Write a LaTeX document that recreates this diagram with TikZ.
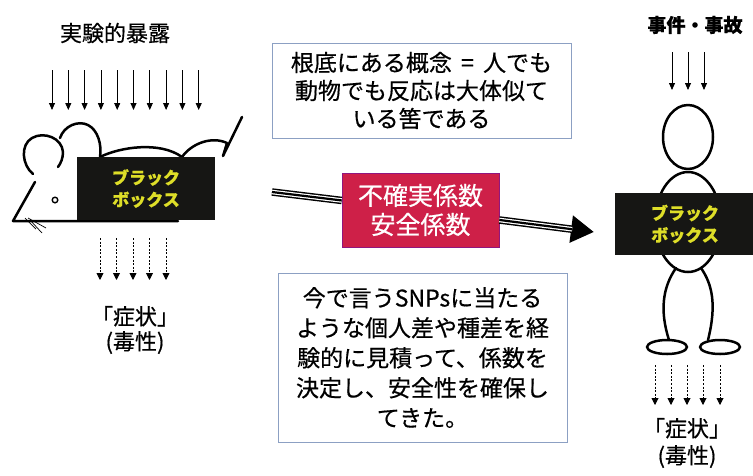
\documentclass[tikz,border=0pt]{standalone}
\usepackage{fontspec}
\setmainfont[FakeBold=0.5]{Noto Sans CJK JP}
\usetikzlibrary{arrows.meta}
\definecolor{boxblack}{RGB}{22,22,20}
\definecolor{boxyellow}{RGB}{222,222,40}
\definecolor{factorred}{RGB}{206,32,72}
\definecolor{frameblue}{RGB}{140,160,195}
\begin{document}
\begin{tikzpicture}[x=1pt,y=-1pt,
  outline/.style={line width=2.5pt, line cap=round, line join=round},
  inarrow/.style={line width=0.8pt, -{Triangle[length=7pt,width=6pt]}},
  outarrow/.style={line width=0.9pt, dash pattern=on 2pt off 1.6pt, -{Triangle[length=7pt,width=7pt]}},
  blackbox/.style={fill=boxblack, text=boxyellow, font=\bfseries\fontsize{17}{22}\selectfont, align=center, inner sep=0pt},
  note/.style={draw=frameblue, line width=0.9pt, fill=white, align=center, inner sep=0pt},
  caption/.style={align=center, inner sep=0pt},
  factorbox/.style={fill=factorred, draw=factorred!70!blue, line width=0.6pt, text=white, align=center, inner sep=0pt, font=\fontsize{25}{29}\selectfont},
]
\useasboundingbox[fill=white] (0,0) rectangle (753,475);

% ---------- left: exposure experiment on a mouse ----------
\node[caption, font=\fontsize{22}{25}\selectfont] (expo) at (115,33) {実験的暴露};
\foreach \x in {52,68.3,84.6,100.9,117.2,133.5,149.8,166.1,182.4,198.7}
  \draw[inarrow] (\x,70) -- (\x,110);

% mouse outline
\draw[outline] (33,174) .. controls (22,165) and (20,145) .. (32,138)
  .. controls (44,131) and (62,138) .. (63,152)
  .. controls (63,158) and (61,163) .. (58,167);
\draw[outline] (60,138) .. controls (64,126) and (78,120) .. (88,125)
  .. controls (98,130) and (102,145) .. (100,157);
\draw[outline] (100,157) .. controls (120,147) and (160,141) .. (182,157);
\draw[outline] (182,157) .. controls (192,143) and (212,136) .. (227,143)
  -- (223,156) -- (242,117);
\draw[outline] (35,182) -- (13,221) -- (178,221);
\draw[line width=1.4pt] (55,200) circle[radius=2.8pt];
\draw[line width=0.7pt] (25,218) -- (36,229) (28,218) -- (46,228) (30,220) -- (42,233);

\node[blackbox, minimum width=138pt, minimum height=63pt] (boxL) at (146,188.5) {ブラック\\ボックス};

\foreach \x in {100,116.5,133,149.5,166}
  \draw[outarrow] (\x,238) -- (\x,280);
\node[caption, font=\fontsize{22}{25}\selectfont] (sympL) at (135,330) {「症状」\\(毒性)};

% ---------- middle: notes and safety factor ----------
\node[note, minimum width=299pt, minimum height=95pt, font=\fontsize{23}{28}\selectfont] (concept) at (421.5,90.5)
  {根底にある概念\hspace{0.4em}=\hspace{0.4em}人でも\\動物でも反応は大体似て\\いる筈である};

\node[factorbox, minimum width=157pt, minimum height=74pt] (factor) at (420.5,210) {不確実係数\\安全係数};
\coordinate (arrowtail) at (272,192);
\coordinate (arrowtip) at (594,232);
% triple-stroke shaft: black, white gap, black core
\draw[line width=7.5pt] (arrowtail) -- (factor);
\draw[white, line width=4.6pt] (arrowtail) -- (factor);
\draw[line width=2.2pt] (arrowtail) -- (factor);
\draw[line width=7.5pt, -{Triangle[length=23pt,width=26pt]}] (factor) -- (arrowtip);
\draw[white, line width=4.6pt, shorten >=22pt] (factor) -- (arrowtip);
\draw[line width=2.2pt, shorten >=22pt] (factor) -- (arrowtip);

\node[note, minimum width=289pt, minimum height=169pt, font=\fontsize{23}{30}\selectfont] (individual) at (422.5,357.5)
  {今で言うSNPsに当たる\\ような個人差や種差を経\\験的に見積って、係数を\\決定し、安全性を確保し\\てきた。};

% ---------- right: human case ----------
\node[caption, font=\bfseries\fontsize{19}{23}\selectfont] (accident) at (695,25) {事件・事故};
\foreach \x in {672,688,704}
  \draw[inarrow] (\x,52) -- (\x,90);

\draw[outline] (688,137) ellipse[x radius=25pt, y radius=32pt];
\draw[outline] (688,222) ellipse[x radius=33pt, y radius=50pt];
\draw[outline] (676,268) .. controls (662,288) and (660,312) .. (669,340);
\draw[outline] (701,268) .. controls (712,284) and (717,304) .. (708,340);
\draw[outline] (667,347) ellipse[x radius=20pt, y radius=7pt];
\draw[outline] (720,347) ellipse[x radius=20pt, y radius=7pt];

\node[blackbox, minimum width=140pt, minimum height=62pt] (boxR) at (685,224) {ブラック\\ボックス};

\foreach \x in {655,671,687,703,720}
  \draw[outarrow] (\x,365) -- (\x,405);
\node[caption, font=\fontsize{22}{27}\selectfont] (sympR) at (687,443) {「症状」\\(毒性)};
\end{tikzpicture}
\end{document}
